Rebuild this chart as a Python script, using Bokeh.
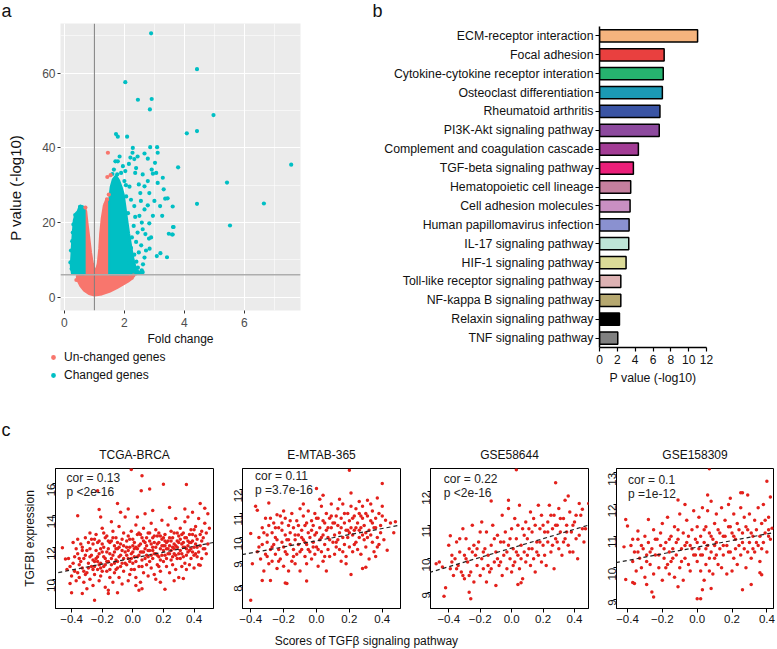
import math
from bokeh.plotting import figure
from bokeh.layouts import row, column
from bokeh.models import (ColumnDataSource, FactorRange, FixedTicker, Span, Slope, Range1d,
                          Label, Legend, LegendItem)
from bokeh.embed import file_html
from bokeh.resources import INLINE

FONT = "Liberation Sans"
RED_A = "#F8766D"
CYAN_A = "#00BFC4"
RED_C = "#E3211C"

# ---------------- panel a : volcano (fold change, -log10 p) ----------------
unchanged_cloud_fc = [1.00, 0.82, 0.66, 0.54, 0.46, 0.43, 0.50, 0.667, 0.667, 0.667, 0.667, 0.68, 0.72,
                      0.76, 0.82, 0.88, 0.94, 1.00, 1.06, 1.12, 1.17, 1.20, 1.25, 1.32, 1.42, 1.48, 1.50,
                      1.50, 1.50, 1.60, 1.85, 2.05, 2.20, 2.25, 2.12, 1.95, 1.75, 1.50, 1.25]
unchanged_cloud_p = [0.5, 0.9, 1.8, 3.0, 4.3, 5.5, 6.0, 6.5, 10.0, 15.0, 20.0, 23.8, 23.0,
                     20.0, 16.0, 12.0, 9.0, 7.5, 7.2, 9.0, 13.0, 17.0, 21.0, 24.5, 26.5, 25.0, 20.0,
                     12.0, 7.0, 6.2, 6.0, 5.8, 5.5, 5.0, 4.2, 3.4, 2.5, 1.5, 0.8]
changed_left_cloud_fc = [0.667, 0.667, 0.60, 0.52, 0.45, 0.38, 0.32, 0.29, 0.26, 0.24, 0.22, 0.26]
changed_left_cloud_p = [6.2, 23.5, 24.3, 24.5, 23.0, 22.4, 20.5, 17.5, 14.0, 11.0, 8.5, 6.3]
changed_right_cloud_fc = [1.50, 1.50, 1.55, 1.62, 1.72, 1.82, 1.90, 1.97, 2.02, 2.08, 2.15, 2.22, 2.30, 2.38, 2.42]
changed_right_cloud_p = [6.2, 26.0, 29.5, 31.5, 32.5, 31.2, 29.5, 27.5, 24.5, 21.0, 17.0, 13.5, 10.0, 7.5, 6.2]

changed_pts = [(4.42, 61.1), (4.97, 48.8), (4.08, 43.9), (4.42, 44.5), (3.79, 34.8), (7.56, 35.5),
               (5.42, 30.7), (3.61, 24.3), (4.42, 25.0), (6.65, 25.1), (3.62, 18.8), (3.61, 16.8),
               (5.52, 19.2), (2.89, 70.7), (2.03, 57.6), (2.45, 52.9), (2.91, 53.1), (2.85, 50.3),
               (1.72, 43.7), (1.78, 43.0), (2.09, 43.0), (1.70, 36.4), (1.78, 36.4), (2.28, 40.0),
               (2.27, 38.7), (2.20, 37.4), (2.33, 37.0), (2.44, 37.7), (2.15, 35.7), (2.39, 34.6),
               (2.36, 33.3), (2.67, 38.5), (2.78, 37.1), (2.86, 40.2), (3.09, 40.2), (3.11, 38.7),
               (3.02, 36.0), (2.91, 34.2), (3.06, 33.3), (2.95, 33.1), (2.78, 31.1), (2.61, 32.9),
               (2.67, 29.7), (2.48, 30.2), (2.53, 27.9), (2.83, 27.9), (3.28, 32.0), (3.11, 30.6),
               (3.31, 28.9), (3.44, 26.5), (3.36, 26.4), (3.00, 25.8), (3.19, 24.4), (2.78, 24.6),
               (2.67, 23.5), (3.26, 21.8), (3.64, 18.8), (3.59, 16.8), (3.48, 17.0), (2.95, 21.8),
               (2.83, 19.8), (2.61, 18.2), (2.70, 16.9), (2.89, 16.0), (2.82, 15.7), (2.84, 13.0),
               (2.56, 13.9), (2.39, 14.8), (3.20, 11.8), (3.08, 11.0), (3.42, 10.7), (2.67, 10.6),
               (2.45, 7.9), (2.61, 6.7), (2.53, 6.5), (2.28, 8.4), (2.17, 9.2), (2.33, 11.4),
               (2.22, 13.2), (2.44, 17.3), (2.31, 19.1), (2.50, 21.8), (2.33, 24.4), (2.22, 26.1),
               (2.55, 25.8), (2.06, 27.0), (2.17, 29.6), (2.00, 31.1), (1.89, 33.3), (2.03, 33.8),
               (1.76, 32.9), (1.65, 34.2), (1.84, 37.7), (1.95, 35.1), (2.12, 22.5), (2.25, 16.0),
               (2.05, 30.0), (1.60, 33.0), (2.40, 9.5), (2.48, 12.0), (2.36, 21.5), (2.58, 20.0),
               (2.72, 12.5), (2.62, 8.8), (0.61, 24.0), (0.45, 21.8), (0.36, 22.0), (0.28, 17.3),
               (0.20, 9.3), (0.22, 12.5), (0.30, 19.5), (0.52, 24.2), (0.24, 7.6), (0.26, 15.0),
               (2.50, 6.6), (2.58, 7.2), (2.30, 6.4), (2.42, 7.0)]
unchanged_pts = [(1.45, 38.7), (1.43, 32.2), (1.54, 32.7), (0.70, 24.0), (1.42, 26.2), (1.38, 25.0),
                 (0.45, 5.5), (0.40, 4.6), (2.20, 5.6), (2.25, 5.2), (2.30, 5.8), (1.48, 27.5)]
fc_cutoff = 1.0
p_cutoff = 6.0
volcano_xticks = [0, 2, 4, 6]
volcano_xminor = [1, 3, 5, 7]
volcano_yticks = [0, 20, 40, 60]
volcano_yminor = [10, 30, 50, 70]
legend_labels = ["Un-changed genes", "Changed genes"]

# ---------------- panel b : KEGG pathways ----------------
pathways = ["ECM-receptor interaction", "Focal adhesion", "Cytokine-cytokine receptor interation",
            "Osteoclast differentiation", "Rheumatoid arthritis", "PI3K-Akt signaling pathway",
            "Complement and coagulation cascade", "TGF-beta signaling pathway",
            "Hematopoietic cell lineage", "Cell adhesion molecules", "Human papillomavirus infection",
            "IL-17 signaling pathway", "HIF-1 signaling pathway", "Toll-like receptor signaling pathway",
            "NF-kappa B signaling pathway", "Relaxin signaling pathway", "TNF signaling pathway"]
pathway_pvals = [11.0, 7.25, 7.15, 7.05, 6.78, 6.7, 4.36, 3.8, 3.5, 3.43, 3.32, 3.28, 2.98,
                 2.39, 2.39, 2.24, 2.05]
pathway_colors = ["#F5B47E", "#E9403F", "#26B36F", "#1B9AB5", "#3A54A4", "#8D4A9E", "#A33C95",
                  "#EB1F79", "#C57F9E", "#C98FC2", "#8A91D0", "#BEE5D7", "#DCDB98", "#DDB2B3",
                  "#B6A870", "#000000", "#808080"]
bar_xticks = [0, 2, 4, 6, 8, 10, 12]

# ---------------- panel c : TGFBI vs TGF-beta score ----------------
tcga_pts = [(-0.01, 16.88), (0.06, 16.49), (0.055, 15.54), (0.11, 15.65), (0.20, 15.96), (0.35, 15.94),
            (-0.23, 15.54), (-0.10, 14.75), (-0.22, 14.37), (-0.36, 13.97), (0.44, 14.75), (0.47, 14.45),
            (0.49, 14.1), (-0.46, 11.97), (-0.44, 11.26), (-0.41, 9.73), (-0.40, 9.14), (-0.33, 9.1),
            (-0.30, 9.4), (-0.25, 8.68), (-0.16, 9.1), (-0.10, 9.15), (0.02, 9.6), (0.04, 9.3),
            (0.21, 9.37), (0.33, 10.04), (0.44, 10.88), (0.48, 11.6),
            (-0.43, 10.6), (-0.42, 11.3), (-0.40, 10.2), (-0.39, 11.0), (-0.38, 10.5), (-0.37, 9.9),
            (-0.36, 11.6), (-0.35, 10.9), (-0.35, 10.1), (-0.34, 12.2), (-0.37, 11.9),
            (-0.33, 10.7), (-0.32, 11.3), (-0.32, 9.8), (-0.31, 12.6), (-0.30, 10.4), (-0.30, 11.8),
            (-0.29, 11.0), (-0.28, 12.9), (-0.28, 10.0), (-0.27, 11.5), (-0.27, 10.8), (-0.26, 12.2),
            (-0.26, 9.6), (-0.25, 11.1), (-0.25, 10.3), (-0.24, 11.8), (-0.24, 12.8), (-0.23, 10.6),
            (-0.23, 11.4), (-0.22, 9.9),
            (-0.22, 12.4), (-0.21, 11.0), (-0.21, 10.2), (-0.20, 11.7), (-0.20, 13.2), (-0.19, 10.8),
            (-0.19, 12.0), (-0.18, 11.3), (-0.18, 9.5), (-0.17, 12.7), (-0.17, 10.5), (-0.16, 11.9),
            (-0.16, 11.1), (-0.15, 10.1), (-0.15, 12.3), (-0.14, 13.6), (-0.14, 10.9), (-0.13, 11.5),
            (-0.13, 9.8), (-0.12, 12.1), (-0.12, 10.4), (-0.21, 13.9), (-0.19, 12.9), (-0.16, 9.3),
            (-0.13, 13.0),
            (-0.11, 11.2), (-0.11, 12.6), (-0.10, 10.7), (-0.10, 11.9), (-0.09, 13.3), (-0.09, 10.1),
            (-0.08, 11.5), (-0.08, 12.2), (-0.07, 9.7), (-0.07, 11.0), (-0.06, 12.9), (-0.06, 10.5),
            (-0.05, 11.7), (-0.05, 13.9), (-0.04, 10.9), (-0.04, 12.4), (-0.03, 11.3), (-0.03, 9.9),
            (-0.02, 12.0), (-0.02, 10.3), (-0.01, 11.6), (-0.01, 13.0), (-0.08, 14.2), (-0.03, 14.4),
            (0.00, 11.0), (0.00, 12.5), (0.01, 10.6), (0.01, 11.9), (0.02, 13.4), (0.02, 10.1),
            (0.03, 11.4), (0.03, 12.8), (0.04, 10.8), (0.04, 12.1), (0.05, 11.7), (0.05, 9.8),
            (0.06, 12.6), (0.06, 11.2), (0.07, 13.2), (0.07, 10.4), (0.08, 11.9), (0.08, 12.3),
            (0.09, 10.9), (0.09, 11.5), (0.10, 12.9), (0.10, 10.2), (0.03, 13.9), (0.08, 14.1),
            (0.06, 9.4),
            (0.11, 11.8), (0.11, 12.4), (0.12, 10.7), (0.12, 13.5), (0.13, 11.3), (0.13, 12.0),
            (0.14, 10.3), (0.14, 12.7), (0.15, 11.6), (0.15, 13.1), (0.16, 10.9), (0.16, 12.2),
            (0.17, 11.4), (0.17, 12.9), (0.18, 10.5), (0.18, 11.9), (0.19, 13.7), (0.19, 12.5),
            (0.20, 11.1), (0.20, 12.1), (0.13, 14.3), (0.18, 9.8), (0.15, 10.0),
            (0.21, 12.8), (0.21, 11.5), (0.22, 10.8), (0.22, 12.3), (0.23, 13.4), (0.23, 11.9),
            (0.24, 10.4), (0.24, 12.6), (0.25, 11.2), (0.25, 13.0), (0.26, 12.0), (0.26, 10.9),
            (0.27, 12.9), (0.27, 11.6), (0.28, 13.8), (0.28, 10.6), (0.29, 12.4), (0.29, 11.3),
            (0.30, 12.7), (0.30, 10.1), (0.24, 14.5), (0.27, 9.9),
            (0.31, 11.8), (0.31, 13.2), (0.32, 12.2), (0.32, 10.8), (0.33, 12.9), (0.33, 11.4),
            (0.34, 13.6), (0.34, 12.0), (0.35, 10.6), (0.35, 12.6), (0.36, 11.7), (0.36, 13.9),
            (0.37, 12.3), (0.37, 10.9), (0.38, 13.1), (0.38, 11.3), (0.39, 12.8), (0.39, 14.2),
            (0.40, 12.0), (0.40, 10.7), (0.34, 14.4),
            (0.41, 11.6), (0.41, 13.3), (0.42, 12.5), (0.43, 10.9), (0.43, 13.8), (0.44, 12.1),
            (0.45, 11.3), (0.45, 13.0), (0.46, 12.6), (0.47, 11.9), (0.47, 13.5), (0.48, 12.9),
            (0.49, 12.2), (0.50, 13.2),
            (-0.41, 10.8), (-0.39, 12.3), (-0.36, 10.4), (-0.34, 11.1), (-0.33, 11.8), (-0.31, 10.3),
            (-0.29, 12.3), (-0.28, 11.4), (-0.26, 10.6), (-0.25, 12.5), (-0.23, 11.1), (-0.22, 10.9),
            (-0.21, 11.9), (-0.20, 10.5), (-0.18, 12.6), (-0.17, 11.1), (-0.15, 11.6), (-0.14, 12.4),
            (-0.12, 11.0), (-0.11, 10.6), (-0.10, 12.3), (-0.09, 11.4), (-0.07, 12.5), (-0.06, 11.3),
            (-0.04, 11.5), (-0.03, 12.7), (-0.02, 11.1), (-0.01, 10.6), (0.00, 11.7), (0.01, 12.3),
            (0.02, 11.1), (0.04, 12.9), (0.05, 12.2), (0.06, 10.8), (0.07, 11.7), (0.09, 12.6),
            (0.10, 11.4), (0.11, 11.1), (0.12, 12.2), (0.13, 12.6), (0.14, 11.6), (0.16, 12.7),
            (0.17, 10.8), (0.18, 12.7), (0.19, 11.5), (0.20, 12.6), (0.21, 12.1), (0.22, 11.3),
            (0.23, 12.4), (0.24, 11.6), (0.25, 12.4), (0.26, 11.4), (0.27, 12.2), (0.28, 12.1),
            (0.29, 12.9), (0.30, 11.6), (0.31, 12.5), (0.32, 11.6), (0.33, 12.3), (0.34, 11.0),
            (0.35, 11.9), (0.36, 12.4), (0.37, 11.8), (0.38, 12.3), (0.39, 11.7), (0.40, 13.1),
            (0.41, 12.2), (0.42, 11.4), (0.44, 12.8), (0.46, 11.9),
            (-0.38, 11.4), (-0.36, 12.5), (-0.35, 11.3), (-0.33, 12.0), (-0.32, 10.5), (-0.31, 11.5),
            (-0.29, 10.7), (-0.28, 11.9), (-0.27, 12.5), (-0.26, 11.2), (-0.25, 10.8), (-0.24, 11.3),
            (-0.23, 12.3), (-0.22, 11.6), (-0.21, 10.7), (-0.20, 12.2), (-0.19, 11.4), (-0.18, 10.9),
            (-0.17, 11.7), (-0.16, 12.4), (-0.15, 10.6), (-0.14, 11.3), (-0.13, 12.6), (-0.12, 11.7),
            (-0.11, 11.9), (-0.10, 11.1), (-0.09, 12.0), (-0.08, 10.8), (-0.07, 11.8), (-0.06, 12.1),
            (-0.05, 11.0), (-0.04, 12.0), (-0.03, 11.8), (-0.02, 12.5), (-0.01, 11.3), (0.00, 12.1),
            (0.01, 11.4), (0.02, 12.0), (0.03, 11.9), (0.04, 11.5), (0.05, 12.8), (0.06, 11.7),
            (0.07, 12.4), (0.08, 11.3), (0.09, 12.1), (0.10, 11.8), (0.11, 12.9), (0.12, 11.5),
            (0.13, 11.8), (0.14, 12.3), (0.15, 12.0), (0.16, 11.5), (0.17, 12.3), (0.18, 11.2),
            (0.19, 12.1), (0.20, 11.8), (0.21, 12.4), (0.22, 11.9), (0.23, 11.6), (0.24, 12.1),
            (0.25, 11.8), (0.26, 12.6), (0.27, 11.9), (0.28, 11.5), (0.29, 12.0), (0.30, 12.3),
            (0.31, 11.3), (0.32, 12.8), (0.33, 12.0), (0.34, 12.6), (0.35, 11.5), (0.36, 12.1),
            (0.37, 12.8), (0.38, 11.9), (0.39, 12.4), (0.40, 11.5), (0.41, 12.7), (0.42, 12.0),
            (0.43, 11.7), (0.45, 12.4)]

emtab_pts = [(-0.40, 7.37), (0.20, 12.81), (0.40, 12.25), (0.00, 12.04), (0.21, 11.86), (0.04, 11.76),
             (-0.37, 11.3), (-0.36, 11.14), (-0.29, 11.44), (-0.40, 10.16), (-0.39, 8.9), (-0.33, 8.2),
             (-0.28, 8.2), (-0.19, 8.1), (-0.18, 8.07), (-0.06, 8.18), (0.21, 8.45), (0.28, 8.7),
             (0.30, 8.75), (0.42, 10.72), (0.45, 10.6), (0.48, 10.65), (0.43, 9.46), (0.47, 10.2),
             (0.37, 11.65), (0.31, 11.55),
             (-0.36, 9.4), (-0.35, 10.0), (-0.34, 9.1), (-0.33, 10.4), (-0.33, 9.7), (-0.32, 8.6),
             (-0.31, 10.8), (-0.31, 9.3), (-0.30, 10.1), (-0.30, 9.8), (-0.29, 8.9), (-0.29, 10.5),
             (-0.28, 9.5), (-0.28, 10.8), (-0.27, 9.0), (-0.27, 10.2),
             (-0.26, 9.7), (-0.26, 10.6), (-0.25, 9.3), (-0.25, 10.0), (-0.24, 8.7), (-0.24, 9.9),
             (-0.23, 10.4), (-0.23, 9.5), (-0.22, 10.9), (-0.22, 9.1), (-0.21, 9.8), (-0.21, 10.3),
             (-0.20, 8.8), (-0.20, 9.6), (-0.19, 10.1), (-0.19, 10.8), (-0.18, 9.3), (-0.18, 9.9),
             (-0.17, 10.5), (-0.17, 8.6), (-0.16, 9.7), (-0.16, 10.2), (-0.15, 9.0), (-0.15, 11.0),
             (-0.20, 11.1), (-0.24, 10.95),
             (-0.14, 9.5), (-0.14, 10.4), (-0.13, 9.9), (-0.13, 8.9), (-0.12, 10.7), (-0.12, 9.3),
             (-0.11, 10.1), (-0.11, 9.7), (-0.10, 11.2), (-0.10, 8.6), (-0.09, 10.3), (-0.09, 9.5),
             (-0.08, 9.9), (-0.08, 10.9), (-0.07, 9.2), (-0.07, 10.5), (-0.06, 9.7), (-0.06, 8.9),
             (-0.05, 10.2), (-0.05, 11.1), (-0.04, 9.4), (-0.04, 10.0), (-0.03, 10.7), (-0.03, 9.1),
             (-0.08, 11.4),
             (-0.02, 9.8), (-0.02, 10.5), (-0.01, 9.3), (-0.01, 11.0), (0.00, 10.2), (0.00, 9.6),
             (0.01, 10.8), (0.01, 8.8), (0.02, 9.9), (0.02, 10.4), (0.03, 11.3), (0.03, 9.4),
             (0.04, 10.1), (0.04, 9.0), (0.05, 10.6), (0.05, 9.7), (0.06, 11.0), (0.06, 10.3),
             (0.07, 9.5), (0.07, 10.0), (0.08, 10.8), (0.08, 9.2), (0.09, 10.4), (0.09, 11.4),
             (0.10, 9.8), (0.10, 10.6), (0.02, 11.6), (0.06, 8.6),
             (0.11, 10.1), (0.11, 9.3), (0.12, 10.9), (0.12, 9.8), (0.13, 10.5), (0.13, 11.2),
             (0.14, 9.5), (0.14, 10.2), (0.15, 10.8), (0.15, 9.0), (0.16, 10.0), (0.16, 11.4),
             (0.17, 9.7), (0.17, 10.6), (0.18, 10.3), (0.18, 9.2), (0.19, 11.0), (0.19, 10.0),
             (0.20, 9.6), (0.20, 10.7), (0.21, 10.4), (0.21, 11.3), (0.22, 9.4), (0.22, 10.1),
             (0.14, 11.6), (0.18, 8.9),
             (0.23, 10.9), (0.23, 10.3), (0.24, 9.8), (0.24, 11.2), (0.25, 10.6), (0.25, 9.5),
             (0.26, 10.0), (0.26, 11.0), (0.27, 10.4), (0.27, 9.3), (0.28, 10.8), (0.28, 11.3),
             (0.29, 9.9), (0.29, 10.5), (0.30, 10.2), (0.30, 9.6), (0.31, 10.9), (0.32, 10.3),
             (0.32, 9.1), (0.33, 10.7), (0.34, 11.1), (0.34, 9.8), (0.35, 10.4), (0.35, 9.4),
             (0.26, 11.5), (0.33, 11.4),
             (0.36, 10.8), (0.37, 10.0), (0.38, 11.0), (0.38, 9.7), (0.39, 10.5), (0.40, 10.9),
             (0.41, 9.9), (0.36, 9.2), (0.40, 11.3),
             (-0.35, 9.6), (-0.32, 10.2), (-0.30, 9.2), (-0.27, 9.6), (-0.25, 10.4), (-0.23, 9.0),
             (-0.21, 10.6), (-0.19, 9.4), (-0.17, 9.9), (-0.16, 10.7), (-0.14, 9.2), (-0.13, 10.1),
             (-0.11, 10.5), (-0.10, 9.4), (-0.09, 10.0), (-0.07, 9.8), (-0.06, 10.6), (-0.05, 9.5),
             (-0.03, 10.3), (-0.02, 9.6), (-0.01, 10.1), (0.00, 10.8), (0.01, 9.5), (0.03, 10.0),
             (0.04, 10.7), (0.05, 9.2), (0.07, 10.4), (0.08, 9.9), (0.09, 10.9), (0.11, 10.6),
             (0.12, 9.6), (0.13, 9.9), (0.15, 10.4), (0.16, 9.4), (0.17, 11.0), (0.19, 10.3),
             (0.20, 10.2), (0.22, 10.8), (0.23, 9.7), (0.24, 10.4), (0.26, 10.3), (0.27, 10.9),
             (0.28, 10.1), (0.30, 11.0), (0.31, 10.0), (0.33, 10.1), (0.34, 10.6), (0.36, 10.4),
             (0.37, 9.6), (0.39, 10.2)]

gse58644_pts = [(0.03, 12.66), (0.28, 12.27), (-0.13, 11.73), (-0.39, 10.69), (-0.48, 9.85), (-0.42, 9.13),
                (-0.43, 8.88), (-0.27, 9.0), (-0.26, 8.8), (0.04, 9.23), (0.06, 9.28), (0.49, 11.65),
                (0.43, 11.65), (0.45, 11.48), (0.52, 11.52), (-0.44, 9.75), (-0.46, 9.9), (0.36, 11.88),
                (0.34, 11.75), (-0.02, 11.75),
                (-0.40, 10.4), (-0.39, 9.7), (-0.38, 10.1), (-0.37, 9.5), (-0.36, 10.0), (-0.35, 10.5),
                (-0.34, 9.8), (-0.33, 10.2), (-0.32, 9.6), (-0.31, 10.9), (-0.30, 10.1), (-0.30, 9.4),
                (-0.29, 10.6), (-0.28, 9.9),
                (-0.27, 10.3), (-0.26, 9.6), (-0.25, 10.2), (-0.25, 11.0), (-0.24, 9.3), (-0.23, 10.1),
                (-0.22, 9.8), (-0.21, 10.5), (-0.20, 9.5), (-0.19, 11.1), (-0.19, 10.0), (-0.18, 9.7),
                (-0.17, 10.3), (-0.16, 10.8), (-0.16, 9.3), (-0.15, 10.1),
                (-0.14, 9.6), (-0.13, 10.4), (-0.12, 11.0), (-0.11, 9.9), (-0.10, 10.2), (-0.10, 9.2),
                (-0.09, 10.7), (-0.08, 9.8), (-0.07, 10.5), (-0.06, 11.3), (-0.06, 9.5), (-0.05, 10.1),
                (-0.04, 10.8), (-0.03, 9.7), (-0.02, 10.4), (-0.02, 11.5),
                (-0.01, 10.0), (0.00, 10.9), (0.00, 9.6), (0.01, 10.3), (0.02, 11.2), (0.02, 9.9),
                (0.03, 10.6), (0.04, 10.1), (0.05, 11.6), (0.05, 9.7), (0.06, 10.4), (0.07, 10.9),
                (0.07, 9.4), (0.08, 10.2), (0.09, 11.1), (0.09, 9.9), (0.10, 10.6),
                (0.11, 10.3), (0.12, 11.4), (0.12, 9.8), (0.13, 10.8), (0.14, 10.0), (0.15, 11.0),
                (0.15, 9.6), (0.16, 10.5), (0.17, 11.6), (0.17, 10.1), (0.18, 10.9), (0.19, 9.9),
                (0.19, 11.3), (0.20, 10.4), (0.21, 10.8), (0.22, 9.8),
                (0.23, 11.1), (0.23, 10.5), (0.24, 11.6), (0.25, 10.2), (0.26, 10.9), (0.27, 11.3),
                (0.27, 9.7), (0.28, 10.6), (0.29, 11.0), (0.30, 10.3), (0.30, 11.5), (0.31, 10.8),
                (0.32, 10.1), (0.33, 11.2), (0.34, 10.6), (0.35, 11.0),
                (0.36, 10.4), (0.37, 11.4), (0.38, 10.8), (0.39, 10.2), (0.40, 11.1), (0.41, 10.6),
                (0.42, 10.0), (0.44, 11.3), (0.46, 10.5), (0.47, 10.9),
                (-0.38, 9.9), (-0.35, 9.7), (-0.33, 10.6), (-0.31, 9.5), (-0.29, 10.0), (-0.27, 9.5),
                (-0.24, 10.4), (-0.22, 10.3), (-0.20, 10.8), (-0.18, 10.2), (-0.15, 9.8), (-0.13, 9.7),
                (-0.11, 10.6), (-0.09, 10.0), (-0.07, 9.9), (-0.05, 10.5), (-0.03, 10.2), (-0.01, 10.6),
                (0.01, 9.8), (0.03, 10.2), (0.04, 11.0), (0.06, 10.0), (0.08, 10.7), (0.10, 10.1),
                (0.11, 10.9), (0.13, 10.3), (0.14, 11.2), (0.16, 10.2), (0.18, 10.5), (0.20, 11.0),
                (0.21, 10.1), (0.23, 10.8), (0.25, 11.3), (0.26, 10.4), (0.28, 11.0), (0.29, 10.5),
                (0.31, 11.2), (0.33, 10.5), (0.35, 10.8), (0.37, 10.2), (0.39, 11.0), (0.41, 11.3),
                (0.43, 10.7), (0.45, 10.9)]

gse158309_pts = [(0.07, 13.13), (0.40, 12.74), (0.42, 12.24), (-0.41, 11.53), (-0.40, 11.32), (-0.34, 11.16),
                 (-0.28, 11.53), (-0.11, 12.14), (-0.42, 10.66), (-0.41, 9.63), (-0.37, 9.53), (-0.36, 9.5),
                 (-0.29, 9.47), (-0.26, 9.23), (-0.25, 9.07), (0.00, 9.02), (0.02, 9.02), (0.08, 9.34),
                 (0.26, 9.3), (0.31, 9.47), (0.36, 9.84), (0.37, 9.78), (0.25, 12.37), (0.26, 12.37),
                 (0.29, 12.3), (0.41, 11.2), (0.43, 11.25),
                 (-0.38, 10.7), (-0.37, 10.2), (-0.36, 10.5), (-0.35, 9.9), (-0.34, 10.9), (-0.33, 10.3),
                 (-0.32, 10.0), (-0.31, 10.6), (-0.30, 11.0), (-0.30, 9.7), (-0.29, 10.4), (-0.28, 10.8),
                 (-0.27, 10.1), (-0.26, 10.6), (-0.25, 11.2), (-0.25, 9.8), (-0.24, 10.4), (-0.23, 10.9),
                 (-0.22, 10.0), (-0.21, 10.7), (-0.20, 11.4), (-0.20, 9.6), (-0.19, 10.3), (-0.18, 10.8),
                 (-0.17, 10.1), (-0.17, 11.6), (-0.16, 9.8), (-0.16, 10.5), (-0.15, 11.0), (-0.15, 10.2),
                 (-0.14, 10.6), (-0.13, 9.7), (-0.13, 11.3), (-0.12, 10.4), (-0.11, 10.9), (-0.10, 10.0),
                 (-0.10, 11.7), (-0.09, 10.6), (-0.08, 11.1), (-0.08, 9.6), (-0.07, 10.3), (-0.06, 10.8),
                 (-0.06, 11.5), (-0.05, 10.1), (-0.04, 10.7), (-0.04, 9.9), (-0.03, 11.2), (-0.02, 10.4),
                 (-0.02, 11.8), (-0.11, 9.4), (-0.07, 12.0),
                 (-0.01, 10.9), (0.00, 11.3), (0.00, 10.2), (0.01, 10.6), (0.01, 11.6), (0.02, 9.9),
                 (0.02, 11.0), (0.03, 10.4), (0.03, 11.9), (0.04, 10.8), (0.04, 9.6), (0.05, 11.3),
                 (0.05, 10.1), (0.06, 10.7), (0.06, 11.8), (0.07, 9.9), (0.07, 11.1), (0.08, 10.5),
                 (0.08, 12.1), (0.09, 10.9), (0.09, 9.8), (0.10, 11.4), (0.10, 10.3), (0.03, 9.3),
                 (0.06, 12.3),
                 (0.11, 10.8), (0.11, 11.7), (0.12, 10.1), (0.12, 11.2), (0.13, 10.6), (0.14, 11.9),
                 (0.14, 10.0), (0.15, 11.0), (0.15, 10.4), (0.16, 11.5), (0.17, 10.7), (0.17, 9.8),
                 (0.18, 11.3), (0.18, 12.0), (0.19, 10.5), (0.20, 11.1), (0.20, 9.9), (0.21, 11.7),
                 (0.21, 10.3), (0.22, 10.9), (0.19, 12.2),
                 (0.23, 11.4), (0.23, 10.1), (0.24, 10.7), (0.25, 11.9), (0.25, 10.4), (0.26, 11.1),
                 (0.27, 10.6), (0.27, 11.6), (0.28, 10.0), (0.29, 11.2), (0.30, 10.8), (0.30, 11.7),
                 (0.31, 10.3), (0.32, 11.0), (0.33, 11.5), (0.33, 10.5),
                 (0.34, 11.2), (0.35, 10.7), (0.35, 11.9), (0.36, 10.2), (0.37, 11.4), (0.38, 10.8),
                 (0.38, 12.0), (0.39, 11.1), (0.40, 10.5), (0.41, 11.6), (0.42, 10.9),
                 (-0.37, 10.9), (-0.34, 10.5), (-0.32, 10.7), (-0.29, 10.2), (-0.27, 10.5), (-0.24, 10.9),
                 (-0.22, 10.4), (-0.21, 11.1), (-0.19, 10.6), (-0.18, 10.0), (-0.16, 10.9), (-0.14, 10.3),
                 (-0.12, 10.8), (-0.11, 11.2), (-0.09, 10.2), (-0.07, 10.7), (-0.05, 11.0), (-0.03, 10.6),
                 (-0.01, 10.4), (0.00, 10.8), (0.02, 10.4), (0.04, 11.2), (0.05, 10.6), (0.07, 10.3),
                 (0.08, 11.0), (0.10, 10.7), (0.11, 10.4), (0.13, 11.1), (0.15, 10.7), (0.16, 11.0),
                 (0.18, 10.5), (0.19, 11.3), (0.21, 11.0), (0.22, 10.6), (0.24, 11.2), (0.26, 10.8),
                 (0.28, 11.3), (0.29, 10.5), (0.31, 11.1), (0.32, 10.6), (0.34, 10.8), (0.36, 11.0),
                 (0.37, 10.6), (0.39, 11.5), (0.41, 11.0)]

cohort_names = ["TCGA-BRCA", "E-MTAB-365", "GSE58644", "GSE158309"]
cohort_cor = ["cor = 0.13", "cor = 0.11", "cor = 0.22", "cor = 0.1"]
cohort_p = ["p <2e-16", "p =3.7e-16", "p <2e-16", "p =1e-12"]
fit_intercepts = [11.32, 9.86, 10.32, 10.65]
fit_slopes = [1.86, 1.28, 1.40, 1.05]
score_ticks = [-0.4, -0.2, 0.0, 0.2, 0.4]
score_tick_labels = ["\u22120.4", "\u22120.2", "0.0", "0.2", "0.4"]
expr_ticks = [[10, 12, 14, 16], [8, 9, 10, 11, 12], [9, 10, 11, 12], [9, 10, 11, 12, 13]]

TOTAL_W = 776


def no_align(p):
    try:
        p.frame_align = False
    except Exception:
        pass


def text_strip(width, height):
    s = figure(width=width, height=height, x_range=Range1d(0, width), y_range=Range1d(height, 0),
               output_backend="svg", toolbar_location=None, x_axis_location=None, y_axis_location=None,
               min_border_left=0, min_border_right=0, min_border_top=0, min_border_bottom=0)
    s.grid.visible = False
    s.outline_line_color = None
    no_align(s)
    return s


# =========================== panel letters a / b ===========================
top_strip = text_strip(TOTAL_W, 21)
for letter, lx in (("a", 1), ("b", 372)):
    top_strip.add_layout(Label(x=lx, y=10.5, text=letter, text_font=FONT, text_font_size="18px",
                               text_align="left", text_baseline="middle", text_color="#111111"))

# =========================== panel a ===========================
fa = figure(width=305, height=327, x_range=(-0.13, 7.87), y_range=(-3.57, 73.33),
            output_backend="svg", toolbar_location=None,
            min_border_left=60, min_border_right=5, min_border_top=2, min_border_bottom=36)
no_align(fa)
fa.background_fill_color = "#EBEBEB"
fa.border_fill_color = "white"
fa.outline_line_color = None
fa.patches([unchanged_cloud_fc], [unchanged_cloud_p], fill_color=RED_A, line_color=RED_A, line_width=2.5)
fa.patches([changed_left_cloud_fc, changed_right_cloud_fc], [changed_left_cloud_p, changed_right_cloud_p],
           fill_color=CYAN_A, line_color=CYAN_A, line_width=2.5)
fa.scatter([a for a, b in changed_pts], [b for a, b in changed_pts], size=4.2,
           fill_color=CYAN_A, line_color=None)
fa.scatter([a for a, b in unchanged_pts], [b for a, b in unchanged_pts], size=4.2,
           fill_color=RED_A, line_color=None)
fa.add_layout(Span(location=fc_cutoff, dimension="height", line_color="#7F7F7F", line_width=1))
fa.add_layout(Span(location=p_cutoff, dimension="width", line_color="#ADADAD", line_width=1.6))

xt = FixedTicker(ticks=volcano_xticks, minor_ticks=volcano_xminor)
yt = FixedTicker(ticks=volcano_yticks, minor_ticks=volcano_yminor)
fa.xaxis.ticker = xt
fa.yaxis.ticker = yt
fa.xgrid.ticker = xt
fa.ygrid.ticker = yt
for g in (fa.xgrid[0], fa.ygrid[0]):
    g.grid_line_color = "white"
    g.grid_line_width = 1.1
    g.minor_grid_line_color = "white"
    g.minor_grid_line_width = 0.55
for ax in (fa.xaxis[0], fa.yaxis[0]):
    ax.axis_line_color = None
    ax.major_tick_line_color = "#333333"
    ax.major_tick_out = 3
    ax.major_tick_in = 0
    ax.minor_tick_line_color = None
    ax.major_label_text_font = FONT
    ax.major_label_text_font_size = "12px"
    ax.major_label_text_color = "#4D4D4D"
    ax.axis_label_text_font = FONT
    ax.axis_label_text_font_style = "normal"
    ax.axis_label_text_color = "#111111"
fa.xaxis.major_label_standoff = 3
fa.yaxis.major_label_standoff = 1
fa.xaxis.axis_label = "Fold change"
fa.xaxis.axis_label_text_font_size = "12px"
fa.xaxis.axis_label_standoff = 2
# trailing no-break spaces push the visible title a little lower, as in the original
fa.yaxis.axis_label = "P value (-log10)" + "\u00a0" * 10
fa.yaxis.axis_label_text_font_size = "15px"
fa.yaxis.axis_label_standoff = 15

# legend of panel a, below the volcano
legfig = figure(width=305, height=52, x_range=(0, 1), y_range=(0, 1), output_backend="svg",
                toolbar_location=None, x_axis_location=None, y_axis_location=None,
                min_border_left=47, min_border_right=0, min_border_top=0, min_border_bottom=0)
no_align(legfig)
legfig.grid.visible = False
legfig.outline_line_color = None
# legend keys only: the single points sit outside the visible range
r_u = legfig.scatter([5], [5], size=4.2, fill_color=RED_A, line_color=None)
r_c = legfig.scatter([5], [5], size=4.2, fill_color=CYAN_A, line_color=None)
legend = Legend(items=[LegendItem(label=legend_labels[0], renderers=[r_u]),
                       LegendItem(label=legend_labels[1], renderers=[r_c])],
                location="top_left", orientation="vertical", border_line_color=None,
                background_fill_alpha=0, padding=5, margin=0, spacing=0,
                glyph_width=12, glyph_height=18, label_height=18, label_standoff=5,
                label_text_font=FONT, label_text_font_size="12px", label_text_color="#111111")
legfig.add_layout(legend)

# =========================== panel b ===========================
bsrc = ColumnDataSource(dict(pathway=pathways, pval=pathway_pvals, color=pathway_colors))
fb = figure(width=TOTAL_W - 305, height=379, y_range=FactorRange(factors=pathways[::-1]), x_range=(0, 12),
            output_backend="svg", toolbar_location=None,
            min_border_left=294, min_border_right=70, min_border_top=5, min_border_bottom=53)
no_align(fb)
fb.hbar(y="pathway", left=0, right="pval", height=0.65, fill_color="color", line_color="black",
        line_width=1.5, source=bsrc)
fb.grid.visible = False
fb.outline_line_color = None
fb.xaxis.ticker = FixedTicker(ticks=bar_xticks)
for ax in (fb.xaxis[0], fb.yaxis[0]):
    ax.axis_line_color = "black"
    ax.axis_line_width = 1.5
    ax.major_tick_line_color = "black"
    ax.major_tick_line_width = 1.2
    ax.major_tick_out = 4
    ax.major_tick_in = 0
    ax.minor_tick_line_color = None
    ax.major_label_text_font = FONT
    ax.major_label_text_color = "#111111"
    ax.major_label_standoff = 2
fb.xaxis.major_label_standoff = 3
fb.xaxis.major_label_text_font_size = "12px"
fb.yaxis.major_label_text_font_size = "12.3px"
fb.xaxis.axis_label = "P value (-log10)"
fb.xaxis.axis_label_text_font = FONT
fb.xaxis.axis_label_text_font_size = "12.3px"
fb.xaxis.axis_label_text_font_style = "normal"
fb.xaxis.axis_label_text_color = "#111111"
fb.xaxis.axis_label_standoff = 4

# =========================== panel c ===========================
c_strip = text_strip(TOTAL_W, 39)
c_strip.add_layout(Label(x=1, y=29, text="c", text_font=FONT, text_font_size="18px",
                         text_align="left", text_baseline="middle", text_color="#111111"))

c_x_ranges = [(-0.505, 0.527), (-0.45, 0.511), (-0.516, 0.489), (-0.463, 0.438)]
c_y_ranges = [(8.16, 16.94), (7.03, 12.88), (8.51, 12.7), (8.71, 13.14)]
c_widths = [221, 188, 186, 181]
c_left = [55, 21, 21, 21]
c_right = [8, 9, 7, 3]
c_text_dx = [11, 12.6, 13.3, 11.6]
c_text_dy = [9.4, 7.5, 10, 11.3]
all_pts = [tcga_pts, emtab_pts, gse58644_pts, gse158309_pts]

cfigs = []
for i in range(4):
    xr, yr = c_x_ranges[i], c_y_ranges[i]
    frame_w = c_widths[i] - c_left[i] - c_right[i]
    frame_h = 140
    p = figure(width=c_widths[i], height=189, x_range=xr, y_range=yr, title=cohort_names[i],
               output_backend="svg", toolbar_location=None,
               min_border_left=c_left[i], min_border_right=c_right[i], min_border_top=29,
               min_border_bottom=20)
    no_align(p)
    p.title.text_font = FONT
    p.title.text_font_size = "12px"
    p.title.text_font_style = "normal"
    p.title.text_color = "#111111"
    p.title.align = "center"
    p.title.standoff = 13
    p.grid.visible = False
    p.outline_line_color = "black"
    p.outline_line_width = 1
    pts = all_pts[i]
    p.scatter([a for a, b in pts], [b for a, b in pts], size=3.5, fill_color=RED_C, line_color=None)
    p.add_layout(Slope(gradient=fit_slopes[i], y_intercept=fit_intercepts[i], line_color="#222222",
                       line_dash="4 3", line_width=1.2))
    p.xaxis.ticker = FixedTicker(ticks=score_ticks)
    p.xaxis.major_label_overrides = {t: s for t, s in zip(score_ticks, score_tick_labels)}
    p.yaxis.ticker = FixedTicker(ticks=expr_ticks[i])
    p.yaxis.major_label_orientation = math.pi / 2
    for ax in (p.xaxis[0], p.yaxis[0]):
        ax.axis_line_color = "black"
        ax.major_tick_line_color = "black"
        ax.major_tick_in = 0
        ax.minor_tick_line_color = None
        ax.major_label_text_font = FONT
        ax.major_label_text_font_size = "11.5px"
        ax.major_label_text_color = "#111111"
    p.xaxis.major_tick_out = 4
    p.xaxis.major_label_standoff = 2
    p.yaxis.major_tick_out = 3
    p.yaxis.major_label_standoff = 1
    tx = xr[0] + (xr[1] - xr[0]) * c_text_dx[i] / frame_w
    ty1 = yr[1] - (yr[1] - yr[0]) * c_text_dy[i] / frame_h
    ty2 = yr[1] - (yr[1] - yr[0]) * (c_text_dy[i] + 14) / frame_h
    for txt, ty in ((cohort_cor[i], ty1), (cohort_p[i], ty2)):
        p.add_layout(Label(x=tx, y=ty, text=txt, text_font=FONT, text_font_size="12px",
                           text_color="#222222", text_align="left", text_baseline="middle"))
    if i == 0:
        p.yaxis.axis_label = "TGFBI expression"
        p.yaxis.axis_label_text_font = FONT
        p.yaxis.axis_label_text_font_size = "12px"
        p.yaxis.axis_label_text_font_style = "normal"
        p.yaxis.axis_label_text_color = "#111111"
        p.yaxis.axis_label_standoff = 4
    cfigs.append(p)

bottom_strip = text_strip(TOTAL_W, 20)
bottom_strip.add_layout(Label(x=366, y=12, text="Scores of TGF\u03b2 signaling pathway",
                              text_font=FONT, text_font_size="12px", text_color="#111111",
                              text_align="center", text_baseline="middle"))

layout = column(top_strip,
                row(column(fa, legfig), fb),
                c_strip,
                row(*cfigs),
                bottom_strip)
open("out.html", "w").write(file_html(layout, INLINE))
